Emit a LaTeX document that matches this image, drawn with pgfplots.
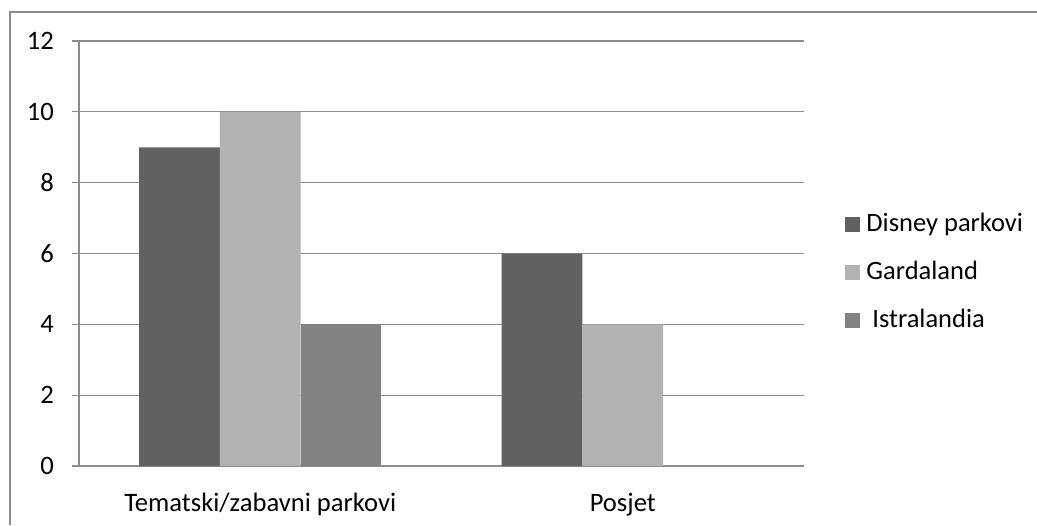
\documentclass[border=0pt]{standalone}
\usepackage{fontspec}
\setmainfont{Carlito}
\usepackage{pgfplots}
\pgfplotsset{compat=1.18}
\definecolor{cDis}{HTML}{616161}
\definecolor{cGar}{HTML}{B2B2B2}
\definecolor{cIst}{HTML}{828282}
\definecolor{gridgray}{HTML}{8C8C8C}
\begin{document}
\fontsize{13.25}{16}\selectfont
\begin{tikzpicture}
\useasboundingbox (0,0) rectangle (518.5pt,262.5pt);
\draw[gridgray, line width=0.7pt] (5pt,0) -- (5pt,256.5pt) -- (518.5pt,256.5pt);
\begin{axis}[
  at={(39.5pt,29.5pt)}, anchor=south west,
  scale only axis, width=362.5pt, height=212.5pt,
  xmin=-0.5, xmax=1.5, ymin=0, ymax=12,
  ybar=0pt, bar width=40.35pt,
  ytick={0,2,...,12},
  xtick={0,1}, xticklabels={Tematski/zabavni parkovi, Posjet},
  extra x ticks={-0.5,0.5,1.5}, extra x tick labels={},
  extra x tick style={major tick length=3.5pt, tick style={gridgray, line width=0.6pt}},
  axis x line*=bottom, axis y line*=left,
  axis line style={gridgray, line width=0.6pt, -},
  tick align=outside,
  x tick style={draw=none},
  y tick style={gridgray, line width=0.6pt},
  major tick length=3.5pt,
  ymajorgrids, grid style={gridgray, line width=0.6pt},
  /pgf/number format/assume math mode=true,
  ticklabel style={font=\fontsize{13.3}{16}\selectfont, text=black},
  yticklabel style={xshift=-4.5pt},
  xticklabel style={yshift=-5.5pt},
  legend style={draw=none, fill=none, at={(1.0566,0.456)}, anchor=west,
    font=\fontsize{13.25}{16}\selectfont, row sep=8.75pt, column sep=1pt, inner sep=0pt},
  legend cell align=left,
  legend image code/.code={\fill[#1] (0pt,-3.75pt) rectangle (7.5pt,3.75pt);},
]
\addplot[fill=cDis, draw=none] coordinates {(0,9) (1,6)};
\addplot[fill=cGar, draw=none] coordinates {(0,10) (1,4)};
\addplot[fill=cIst, draw=none] coordinates {(0,4)};
\legend{Disney parkovi, Gardaland, \ Istralandia}
\end{axis}
\end{tikzpicture}
\end{document}
